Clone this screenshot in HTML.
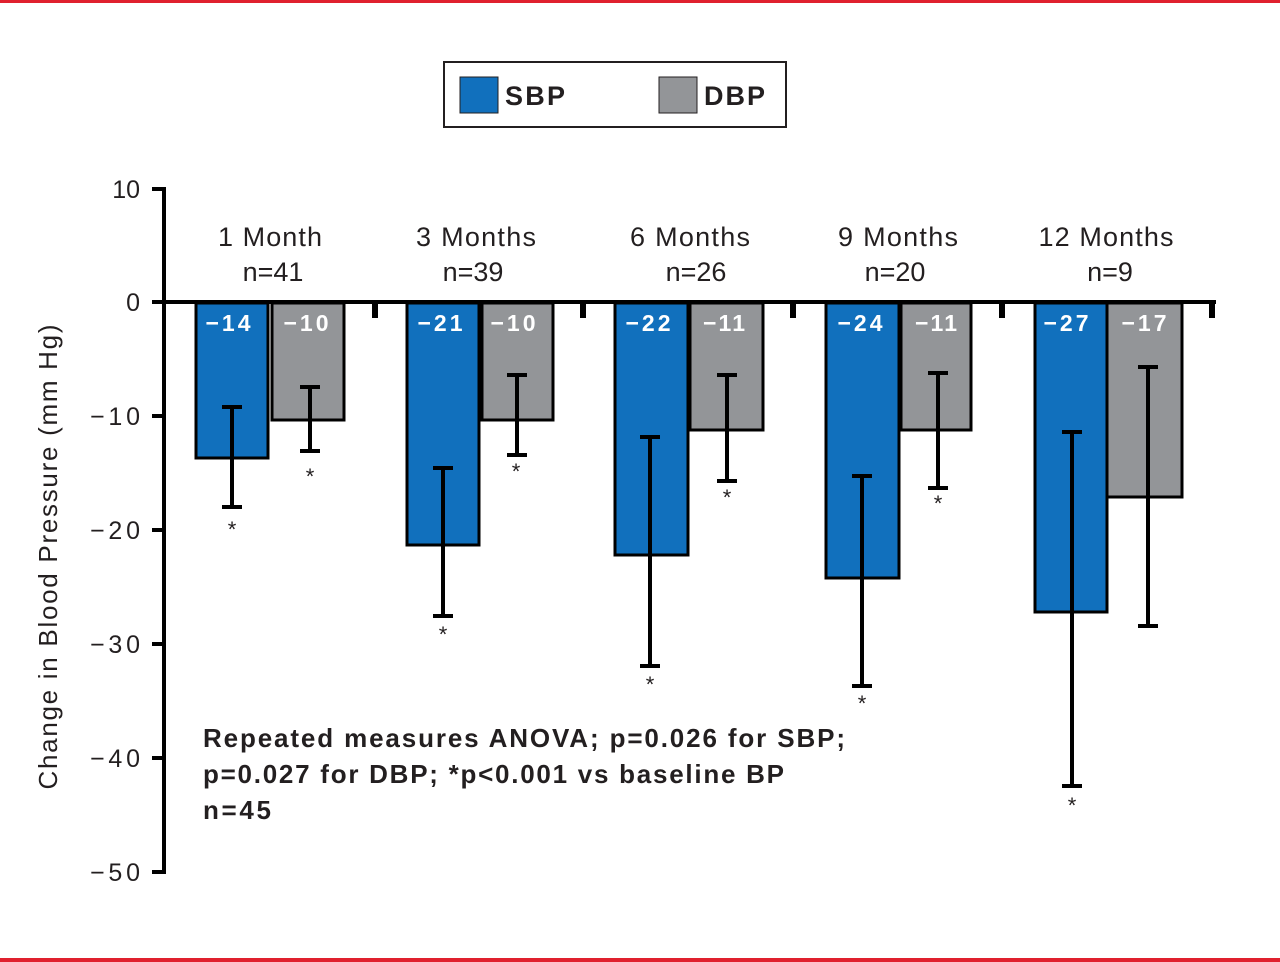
<!DOCTYPE html>
<html><head><meta charset="utf-8"><style>body{margin:0;background:#fff}svg{display:block}</style></head><body>
<svg width="1280" height="962" xmlns="http://www.w3.org/2000/svg" font-family="Liberation Sans, Arial, sans-serif">
<rect x="0" y="0" width="1280" height="3" fill="#e0202e"/>
<rect x="0" y="958" width="1280" height="4" fill="#e0202e"/>
<rect x="444" y="62" width="342" height="65" fill="#fff" stroke="#231f20" stroke-width="2"/>
<rect x="460" y="77" width="38" height="36" fill="#1170bd" stroke="#231f20" stroke-width="1"/>
<rect x="659" y="77" width="38" height="36" fill="#939598" stroke="#231f20" stroke-width="1"/>
<text x="505" y="105" font-size="27" font-weight="bold" fill="#231f20" textLength="60">SBP</text>
<text x="704" y="105" font-size="27" font-weight="bold" fill="#231f20" textLength="61">DBP</text>
<g stroke="#000" stroke-width="4">
<line x1="164" y1="187" x2="164" y2="874"/>
<line x1="162" y1="302" x2="1216" y2="302"/>
</g>
<g stroke="#000" stroke-width="4">
<line x1="152" y1="189" x2="164" y2="189"/><line x1="152" y1="302" x2="164" y2="302"/><line x1="152" y1="416" x2="164" y2="416"/><line x1="152" y1="530" x2="164" y2="530"/><line x1="152" y1="644" x2="164" y2="644"/><line x1="152" y1="758" x2="164" y2="758"/><line x1="152" y1="872" x2="164" y2="872"/>
</g>
<g font-size="25" fill="#231f20" text-anchor="end">
<text x="140" y="198">10</text><text x="140" y="311">0</text><text x="140" y="425" textLength="50">−10</text><text x="140" y="539" textLength="50">−20</text><text x="140" y="653" textLength="50">−30</text><text x="140" y="767" textLength="50">−40</text><text x="140" y="881" textLength="50">−50</text>
</g>
<text transform="translate(57,557) rotate(-90)" font-size="26" fill="#231f20" text-anchor="middle" textLength="465">Change in Blood Pressure (mm Hg)</text>
<g font-size="27" fill="#231f20" text-anchor="middle">
<text x="270" y="246" textLength="104">1 Month</text><text x="273" y="281">n=41</text>
<text x="476" y="246" textLength="120">3 Months</text><text x="473" y="281">n=39</text>
<text x="690" y="246" textLength="120">6 Months</text><text x="696" y="281">n=26</text>
<text x="898" y="246" textLength="120">9 Months</text><text x="895" y="281">n=20</text>
<text x="1106" y="246" textLength="135">12 Months</text><text x="1110" y="281">n=9</text>
</g>
<g stroke="#000" stroke-width="3">
<rect x="196" y="303" width="72" height="155" fill="#1170bd"/><rect x="272" y="303" width="72" height="117" fill="#939598"/>
<rect x="407" y="303" width="72" height="242" fill="#1170bd"/><rect x="482" y="303" width="71" height="117" fill="#939598"/>
<rect x="615" y="303" width="73" height="252" fill="#1170bd"/><rect x="690" y="303" width="73" height="127" fill="#939598"/>
<rect x="826" y="303" width="73" height="275" fill="#1170bd"/><rect x="901" y="303" width="70" height="127" fill="#939598"/>
<rect x="1035" y="303" width="72" height="309" fill="#1170bd"/><rect x="1107" y="303" width="75" height="194" fill="#939598"/>
</g>
<g fill="#000">
<rect x="372" y="300" width="6" height="18"/><rect x="580" y="300" width="6" height="18"/><rect x="790" y="300" width="6" height="18"/><rect x="999" y="300" width="6" height="18"/><rect x="1209" y="300" width="6" height="18"/>
</g>
<g stroke="#000" stroke-width="4" fill="none">
<path d="M232 407V507M222 407H242M222 507H242"/>
<path d="M310 387V451M300 387H320M300 451H320"/>
<path d="M443 468V616M433 468H453M433 616H453"/>
<path d="M517 375V455M507 375H527M507 455H527"/>
<path d="M650 437V666M640 437H660M640 666H660"/>
<path d="M727 375V481M717 375H737M717 481H737"/>
<path d="M862 476V686M852 476H872M852 686H872"/>
<path d="M938 373V488M928 373H948M928 488H948"/>
<path d="M1072 432V786M1062 432H1082M1062 786H1082"/>
<path d="M1148 367V626M1138 367H1158M1138 626H1158"/>
</g>
<g font-size="22" fill="#231f20" text-anchor="middle">
<text x="232" y="537">*</text><text x="310" y="484">*</text><text x="443" y="642">*</text><text x="516" y="479">*</text>
<text x="650" y="692">*</text><text x="727" y="505">*</text><text x="862" y="711">*</text><text x="938" y="511">*</text><text x="1072" y="813">*</text>
</g>
<g font-size="23" font-weight="bold" fill="#fff" text-anchor="middle">
<text x="228" y="331" textLength="45">−14</text><text x="306" y="331" textLength="45">−10</text><text x="440" y="331" textLength="45">−21</text><text x="513" y="331" textLength="45">−10</text>
<text x="648" y="331" textLength="45">−22</text><text x="724" y="331" textLength="42">−11</text><text x="860" y="331" textLength="45">−24</text><text x="936" y="331" textLength="42">−11</text>
<text x="1066" y="331" textLength="45">−27</text><text x="1144" y="331" textLength="45">−17</text>
</g>
<g font-size="26" font-weight="bold" fill="#231f20">
<text x="203" y="747" textLength="642">Repeated measures ANOVA; p=0.026 for SBP;</text>
<text x="203" y="783" textLength="581">p=0.027 for DBP; *p&lt;0.001 vs baseline BP</text>
<text x="203" y="819" textLength="68">n=45</text>
</g>
</svg>
</body></html>
